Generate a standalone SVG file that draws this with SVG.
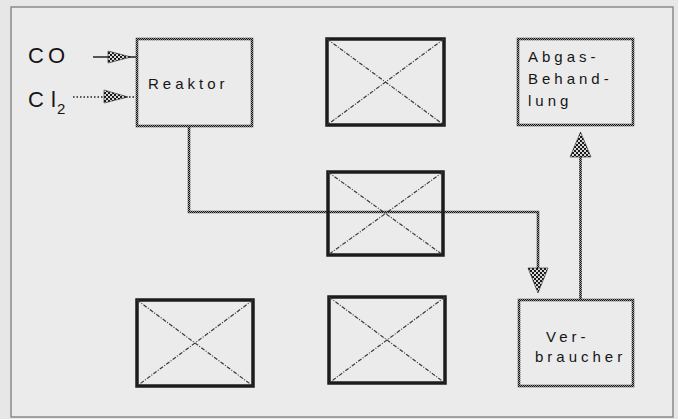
<svg xmlns="http://www.w3.org/2000/svg" width="678" height="419" viewBox="0 0 678 419">
<defs>
<pattern id="chk" width="2" height="2" patternUnits="userSpaceOnUse">
<rect width="2" height="2" fill="#9a9a9a"/>
<rect width="1" height="1" fill="#111"/>
<rect x="1" y="1" width="1" height="1" fill="#111"/>
</pattern>
<pattern id="chk2" width="4" height="4" patternUnits="userSpaceOnUse">
<rect width="4" height="4" fill="#d8d8d8"/>
<rect width="2" height="2" fill="#1a1a1a"/>
<rect x="2" y="2" width="2" height="2" fill="#1a1a1a"/>
</pattern>
</defs>
<style>
.proc{fill:none;stroke:url(#chk);stroke-width:2.6}
.xbox rect{fill:none;stroke:#1c1c1c;stroke-width:3.5}
.xbox line{stroke:#3a3a3a;stroke-width:1.2;stroke-dasharray:4 1.5 1 1.5}
.flow{fill:none;stroke:url(#chk);stroke-width:2.6}
.head{fill:url(#chk2);stroke:#222;stroke-width:0.6}
.lbl{font-family:"Liberation Sans",Arial,sans-serif;font-size:15px;fill:#151515;letter-spacing:4px}
.big{font-family:"Liberation Sans",Arial,sans-serif;font-size:22px;fill:#151515}
</style>
<rect x="0" y="0" width="678" height="419" fill="#e7e7e7"/>
<rect x="11" y="7" width="662" height="410" fill="#ebebeb" stroke="#8a8a8a" stroke-width="1.5"/>

<g id="connectors">
<line x1="93" y1="57" x2="137" y2="57" stroke="#222" stroke-width="1.3"/>
<polygon class="head" points="108,51 108,63 131,57"/>
<line x1="73" y1="97" x2="137" y2="97" stroke="#222" stroke-width="1.5" stroke-dasharray="1.5 2"/>
<polygon class="head" points="104,90 104,103 128,97"/>
<polyline class="flow" points="189,126 189,212 538,212 538,268"/>
<polygon class="head" points="528,268 548,268 538,293"/>
<line class="flow" x1="580.5" y1="300" x2="580.5" y2="157"/>
<polygon class="head" points="570,157 591,157 580.5,132"/>
</g>

<g id="inputs">
<text class="big" x="28" y="63" letter-spacing="4">CO</text>
<text class="big" x="28" y="107">C<tspan x="51">l</tspan><tspan x="57" y="114" font-size="15">2</tspan></text>
</g>

<g id="reaktor">
<rect class="proc" x="137" y="39" width="115" height="87"/>
<text class="lbl" x="148" y="89">Reaktor</text>
</g>

<g id="box-top" class="xbox">
<rect x="327" y="39" width="117" height="86"/>
<line x1="327" y1="39" x2="444" y2="125"/>
<line x1="444" y1="39" x2="327" y2="125"/>
</g>

<g id="box-mid" class="xbox">
<rect x="328" y="172" width="115" height="83"/>
<line x1="328" y1="172" x2="443" y2="255"/>
<line x1="443" y1="172" x2="328" y2="255"/>
</g>

<g id="abgas">
<rect class="proc" x="518" y="39" width="115" height="86"/>
<text class="lbl" x="528" y="62">Abgas-</text>
<text class="lbl" x="528" y="84">Behand-</text>
<text class="lbl" x="528" y="106">lung</text>
</g>

<g id="box-bl" class="xbox">
<rect x="137" y="300" width="116" height="86"/>
<line x1="137" y1="300" x2="253" y2="386"/>
<line x1="253" y1="300" x2="137" y2="386"/>
</g>

<g id="box-bm" class="xbox">
<rect x="329" y="297" width="116" height="86"/>
<line x1="329" y1="297" x2="445" y2="383"/>
<line x1="445" y1="297" x2="329" y2="383"/>
</g>

<g id="verbraucher">
<rect class="proc" x="519" y="300" width="114" height="86"/>
<text class="lbl" x="546" y="342">Ver-</text>
<text class="lbl" x="535" y="362">braucher</text>
</g>
</svg>
